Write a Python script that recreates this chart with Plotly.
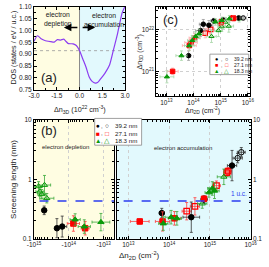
import plotly.graph_objects as go

W, H = 269, 267

# ---------------- panel (a): DOS vs Δn3D (10^22 cm^-3)
dos_n = [-3.0, -2.77, -2.5, -2.29, -1.88, -1.67, -1.46, -1.25, -1.04, -0.9, -0.73, -0.42,
         -0.21, 0.0, 0.21, 0.42, 0.63, 0.83, 1.04, 1.19, 1.35, 1.67, 1.98, 2.23, 2.5, 2.81, 2.98]
dos_val = [0.955, 0.978, 0.964, 0.958, 0.953, 0.951, 0.962, 0.960, 0.964, 0.955, 0.945, 0.944,
           0.937, 0.916, 0.881, 0.847, 0.805, 0.785, 0.778, 0.780, 0.792, 0.819, 0.854, 0.916,
           0.985, 1.075, 1.10]
dos_ref = 0.915
a_xticks = [-3.0, -1.5, 0.0, 1.5, 3.0]

# ---------------- panel (b): screening length (nm) vs Δn2D (cm^-2)
# depletion side, |Δn2D|
dep_392_n = [5.1e14, 2.2e14, 1.55e14]
dep_392_L = [0.30, 0.15, 0.16]
dep_392_fx = [1.1, 1.1, 1.35]
dep_392_fy = [1.18, 1.45, 1.5]
dep_271_n = [7.4e13, 3.4e13]
dep_271_L = [0.18, 0.15]
dep_271_fx = [1.5, 1.3]
dep_271_fy = [1.35, 1.3]
dep_183_n = [6.6e13, 3.6e13, 1.2e13]
dep_183_L = [0.21, 0.16, 0.19]
dep_183_fx = [1.4, 1.5, 1.8]
dep_183_fy = [1.25, 1.3, 1.4]
dep_183o_n = [7.4e14, 5.0e14, 6.8e14, 6.0e14, 4.3e14]
dep_183o_L = [0.76, 0.80, 0.62, 0.56, 0.48]
dep_183o_fx = [1.3, 1.5, 1.3, 1.3, 1.6]
dep_183o_fy = [1.2, 1.45, 1.2, 1.2, 1.2]
# accumulation side
acc_392_n = [6.6e13, 3.5e14, 7.2e14, 3.5e15]
acc_392_L = [0.27, 0.23, 0.46, 1.70]
acc_392_fx = [1.15, 1.6, 1.2, 1.3]
acc_392_fy = [1.2, 1.8, 1.15, 1.8]
acc_392o_n = [4.8e15, 5.9e15]
acc_392o_L = [2.27, 2.85]
acc_392o_fx = [1.3, 1.25]
acc_392o_fy = [1.2, 1.2]
acc_271_n = [1.9e13, 6.9e13, 1.35e14, 7.2e14]
acc_271_L = [0.195, 0.195, 0.22, 0.47]
acc_271_fx = [1.7, 1.5, 1.4, 1.15]
acc_271_fy = [1.1, 1.45, 1.3, 1.1]
acc_271o_n = [2.7e14, 4.3e14, 1.45e15, 2.6e15, 2.8e15]
acc_271o_L = [0.29, 0.35, 0.78, 1.29, 1.37]
acc_271o_fx = [1.3, 1.3, 1.25, 1.2, 1.2]
acc_271o_fy = [1.4, 1.4, 1.2, 1.15, 1.15]
acc_183_n = [7.2e13, 1.12e14, 1.55e14, 9.5e14, 1.15e15, 1.3e15]
acc_183_L = [0.18, 0.23, 0.22, 0.60, 0.70, 0.64]
acc_183_fx = [1.3, 1.4, 1.3, 1.25, 1.3, 1.3]
acc_183_fy = [1.3, 1.3, 1.3, 1.2, 1.3, 1.35]
acc_183o_n = [6.5e14, 2.2e15]
acc_183o_L = [0.39, 1.10]
acc_183o_fx = [1.3, 1.45]
acc_183o_fy = [1.2, 1.35]
uc_length = 0.43

# ---------------- panel (c): Δn3D (cm^-3) vs Δn2D (cm^-2)
c_392_n = [6.6e13, 1.8e14, 2.3e14, 3.7e14, 5.6e14, 1.2e15, 4.6e15]
c_392_N = [2.4e21, 9.7e21, 1.38e22, 1.3e22, 1.66e22, 1.75e22, 1.95e22]
c_392_fx = [1.2, 1.5, 1.4, 1.4, 1.3, 1.3, 1.3]
c_392_fy = [1.3, 1.4, 1.3, 1.3, 1.15, 1.15, 1.1]
c_392o_n = [6.8e15]
c_392o_N = [1.95e22]
c_271_n = [1.7e13, 7.0e13, 8.1e13, 1.1e14, 1.05e15, 3.0e15]
c_271_N = [1.0e21, 4.2e21, 5.0e21, 6.4e21, 1.57e22, 1.9e22]
c_271_fx = [1.6, 1.8, 1.7, 1.6, 1.3, 1.3]
c_271_fy = [1.2, 1.3, 1.3, 1.3, 1.2, 1.15]
c_271o_n = [2.7e14, 4.3e14, 1.0e15, 2.8e15]
c_271o_N = [8.4e21, 1.04e22, 1.44e22, 1.95e22]
c_271o_fx = [1.5, 1.4, 1.3, 1.3]
c_271o_fy = [1.3, 1.3, 1.2, 1.15]
c_183_n = [1.05e13, 3.6e13, 7.0e13, 9.0e13, 1.2e14, 1.6e14, 6.4e14, 1.1e15, 2.1e15]
c_183_N = [7.4e20, 2.4e21, 4.2e21, 5.6e21, 7.0e21, 8.1e21, 1.57e22, 1.7e22, 1.87e22]
c_183_fx = [1.8, 1.6, 1.5, 1.5, 1.4, 1.4, 1.3, 1.3, 1.3]
c_183_fy = [1.4, 1.3, 1.3, 1.3, 1.3, 1.3, 1.2, 1.2, 1.2]
c_183o_n = [4.6e14, 8.3e14, 1.1e15, 1.5e15, 2.0e15, 4.8e15]
c_183o_N = [7.0e21, 9.7e21, 1.2e22, 1.55e22, 1.24e22, 1.87e22]
c_183o_fx = [1.5, 1.4, 1.4, 1.4, 1.5, 1.4]
c_183o_fy = [1.4, 1.4, 1.3, 1.3, 1.4, 1.2]

legend_labels = ["39.2 nm", "27.1 nm", "18.3 nm"]

BLACK, RED, GREEN = "#000000", "#ff0000", "#0a9a0a"
E_BLACK, E_RED, E_GREEN = "#333333", "#ff4040", "#3aa83a"
L_BLACK, L_RED, L_GREEN = "#9a9a9a", "#ffaaaa", "#a6d6a6"
YELLOW, CYAN = "#fffde2", "#e2f9fd"
FONT = "Arial, Liberation Sans, sans-serif"


def px(x):
    return x / W


def py(y):
    return 1 - y / H


def err(vals, f):
    return dict(type="data", symmetric=False,
                array=[v * (k - 1) for v, k in zip(vals, f)],
                arrayminus=[v * (1 - 1 / k) for v, k in zip(vals, f)])


fig = go.Figure()


def pts(xa, ya, x, y, sym, color, size, ecolor, fx=None, fy=None, lw=1.0):
    kw = {}
    if fx is not None:
        kw["error_x"] = dict(err(x, fx), color=ecolor, thickness=0.8, width=1.5)
    if fy is not None:
        kw["error_y"] = dict(err(y, fy), color=ecolor, thickness=0.8, width=1.5)
    fig.add_trace(go.Scatter(x=x, y=y, mode="markers", xaxis=xa, yaxis=ya, showlegend=False,
                             marker=dict(symbol=sym, size=size, color=color,
                                         line=dict(color=color, width=lw)), **kw))


# panel (a)
fig.add_trace(go.Scatter(x=[-3, 3], y=[dos_ref, dos_ref], mode="lines", xaxis="x", yaxis="y",
                         line=dict(color="#999999", width=0.8, dash="dot"), showlegend=False))
fig.add_trace(go.Scatter(x=dos_n, y=dos_val, mode="lines", xaxis="x", yaxis="y",
                         line=dict(color="#8c3cf0", width=1.2, shape="spline", smoothing=0.6),
                         showlegend=False))

# panel (c)
pts("x2", "y2", c_271o_n, c_271o_N, "square-open", RED, 4.5, L_RED, c_271o_fx, c_271o_fy, 1.2)
pts("x2", "y2", c_183o_n, c_183o_N, "triangle-up-open", GREEN, 4.5, L_GREEN, c_183o_fx, c_183o_fy)
pts("x2", "y2", c_392_n, c_392_N, "circle", BLACK, 4.5, L_BLACK, c_392_fx, c_392_fy)
pts("x2", "y2", c_392o_n, c_392o_N, "circle-open", BLACK, 4.5, L_BLACK, [1.3], [1.1])
pts("x2", "y2", c_271_n, c_271_N, "square", RED, 4.5, L_RED, c_271_fx, c_271_fy)
pts("x2", "y2", c_183_n, c_183_N, "triangle-up", GREEN, 4.5, L_GREEN, c_183_fx, c_183_fy)

# panel (b) left (depletion)
pts("x3", "y3", dep_183o_n, dep_183o_L, "triangle-up-open", GREEN, 5.5, E_GREEN, dep_183o_fx, dep_183o_fy)
pts("x3", "y3", dep_392_n, dep_392_L, "circle", BLACK, 5.5, E_BLACK, dep_392_fx, dep_392_fy)
pts("x3", "y3", dep_271_n, dep_271_L, "square", RED, 5.5, E_RED, dep_271_fx, dep_271_fy)
pts("x3", "y3", dep_183_n, dep_183_L, "triangle-up", GREEN, 5.5, E_GREEN, dep_183_fx, dep_183_fy)

# panel (b) right (accumulation)
pts("x4", "y4", acc_271o_n, acc_271o_L, "square-open", RED, 5.5, E_RED, acc_271o_fx, acc_271o_fy, 1.3)
pts("x4", "y4", acc_183o_n, acc_183o_L, "triangle-up-open", GREEN, 5.5, E_GREEN, acc_183o_fx, acc_183o_fy)
pts("x4", "y4", acc_392o_n, acc_392o_L, "circle-open", BLACK, 5.5, E_BLACK, acc_392o_fx, acc_392o_fy)
pts("x4", "y4", acc_392_n, acc_392_L, "circle", BLACK, 5.5, E_BLACK, acc_392_fx, acc_392_fy)
pts("x4", "y4", acc_271_n, acc_271_L, "square", RED, 5.5, E_RED, acc_271_fx, acc_271_fy)
pts("x4", "y4", acc_183_n, acc_183_L, "triangle-up", GREEN, 5.5, E_GREEN, acc_183_fx, acc_183_fy)

# 1 u.c. dashed lines
for xa, ya in (("x3", "y3"), ("x4", "y4")):
    fig.add_trace(go.Scatter(x=[1e12, 1e17], y=[uc_length, uc_length], mode="lines", xaxis=xa,
                             yaxis=ya, line=dict(color="#2b3cf0", width=1.4, dash="dash"),
                             showlegend=False))


def sup(e, neg=False):
    return ("-" if neg else "") + "10<sup>%d</sup>" % e


def minor_log(lo, hi):
    return [float(k) * 10.0 ** d for d in range(lo, hi) for k in range(2, 10)]


axis_common = dict(showline=True, linecolor="black", linewidth=1, mirror="ticks", ticks="inside",
                   ticklen=3, tickwidth=0.8, tickcolor="black", zeroline=False,
                   tickfont=dict(size=6.5, color="#222", family=FONT))
grid = dict(showgrid=True, gridcolor="#d0d0d0", griddash="dot", gridwidth=0.8)

fig.update_layout(
    width=W, height=H, margin=dict(l=0, r=0, t=0, b=0),
    paper_bgcolor="white", plot_bgcolor="white", font=dict(family=FONT, color="#222"),
    xaxis=dict(axis_common, domain=[px(28.5), px(124.5)], range=[-3, 3], anchor="y",
               tickvals=a_xticks, ticktext=["%.1f" % v for v in a_xticks], showgrid=False,
               minor=dict(ticks="inside", ticklen=2, dtick=0.75, tickcolor="black")),
    yaxis=dict(axis_common, domain=[py(88), py(3)], range=[0.7499, 1.1001], anchor="x",
               dtick=0.05, tickformat=".2f", showgrid=False,
               minor=dict(ticks="inside", ticklen=2, dtick=0.025, tickcolor="black")),
    xaxis2=dict(axis_common, **grid, type="log", domain=[px(157.5), px(256)], range=[12.63, 16.07],
                anchor="y2", tickvals=[1e13, 1e14, 1e15, 1e16],
                ticktext=[sup(e) for e in (13, 14, 15, 16)], ticklabelstandoff=0,
                minor=dict(ticks="inside", ticklen=2, tickvals=minor_log(12, 16), tickcolor="black",
                           showgrid=False)),
    yaxis2=dict(axis_common, **grid, type="log", domain=[py(94.3), py(3.3)], range=[20.41, 22.55],
                anchor="x2", tickvals=[1e21, 1e22], ticktext=[sup(21), sup(22)],
                minor=dict(ticks="inside", ticklen=2, tickvals=minor_log(20, 23), tickcolor="black",
                           showgrid=False)),
    xaxis3=dict(axis_common, **grid, type="log", domain=[px(28.5), px(113)], range=[15, 12.7],
                anchor="y3", tickvals=[1e15, 1e14, 1e13],
                ticktext=[sup(e, True) for e in (15, 14, 13)],
                minor=dict(ticks="inside", ticklen=2, tickvals=minor_log(12, 15), tickcolor="black",
                           showgrid=False)),
    yaxis3=dict(axis_common, type="log", domain=[py(241), py(119)], range=[-1, 1], anchor="x3",
                tickvals=[0.1, 1, 10], ticktext=["0.1", "1", "10"], showgrid=False,
                minor=dict(ticks="inside", ticklen=2, tickvals=minor_log(-1, 1), tickcolor="black")),
    xaxis4=dict(axis_common, **grid, type="log", domain=[px(116), px(257)], range=[12.72, 16],
                anchor="y4", tickvals=[1e13, 1e14, 1e15, 1e16],
                ticktext=[sup(e) for e in (13, 14, 15, 16)],
                minor=dict(ticks="inside", ticklen=2, tickvals=minor_log(12, 16), tickcolor="black",
                           showgrid=False)),
    yaxis4=dict(axis_common, type="log", domain=[py(241), py(119)], range=[-1, 1], anchor="x4",
                side="right", tickvals=[0.1, 1, 10], ticktext=["0.1", "1", "10"], showgrid=False,
                minor=dict(ticks="inside", ticklen=2, tickvals=minor_log(-1, 1), tickcolor="black")),
)

shapes = [
    dict(type="rect", xref="x", yref="y domain", x0=-3, x1=0, y0=0, y1=1, fillcolor=YELLOW,
         line=dict(width=0), layer="below"),
    dict(type="rect", xref="x", yref="y domain", x0=0, x1=3, y0=0, y1=1, fillcolor=CYAN,
         line=dict(width=0), layer="below"),
    dict(type="line", xref="x", yref="y domain", x0=0, x1=0, y0=0, y1=1,
         line=dict(color="#8a8a8a", width=1), layer="below"),
    dict(type="rect", xref="x3 domain", yref="y3 domain", x0=0, x1=1, y0=0, y1=1, fillcolor=YELLOW,
         line=dict(width=0), layer="below"),
    dict(type="rect", xref="x4 domain", yref="y4 domain", x0=0, x1=1, y0=0, y1=1, fillcolor=CYAN,
         line=dict(width=0), layer="below"),
    # legend boxes
    dict(type="rect", xref="paper", yref="paper", x0=px(92.5), x1=px(142), y0=py(145), y1=py(117.5),
         fillcolor="white", line=dict(color="#888", width=0.8), layer="above"),
    dict(type="rect", xref="paper", yref="paper", x0=px(214), x1=px(255), y0=py(72.5), y1=py(51.5),
         fillcolor="white", line=dict(color="#888", width=0.8), layer="above"),
]
fig.update_layout(shapes=shapes)


def txt(x, y, t, size=7, angle=0, color="#222", xanchor="center"):
    return dict(x=px(x), y=py(y), xref="paper", yref="paper", text=t, showarrow=False,
                textangle=angle, xanchor=xanchor, yanchor="middle",
                font=dict(size=size, color=color, family=FONT))


ann = [
    txt(7, 45, "DOS (states / eV / u.c.)", 7.2, -90),
    txt(77, 108, "Δn<sub>3D</sub> (10<sup>22</sup> cm<sup>-3</sup>)", 7.2),
    txt(37, 16, "electron<br>depletion", 6.8, xanchor="left"),
    txt(79, 16, "electron<br>accumulation", 6.8, xanchor="left"),
    txt(44, 75, "(a)", 13),
    txt(173, 16, "(c)", 13),
    txt(140, 49, "Δn<sub>3D</sub> (cm<sup>-3</sup>)", 7, -90),
    txt(206, 109, "Δn<sub>2D</sub> (cm<sup>-2</sup>)", 7),
    txt(44, 130, "(b)", 13),
    txt(7, 180, "Screening length (nm)", 8, -90),
    txt(140, 258, "Δn<sub>2D</sub> (cm<sup>-2</sup>)", 8),
    txt(62, 147, "electron depletion", 6),
    txt(186, 148, "electron accumulation", 6),
    txt(245, 195, "1 u.c.", 6.5, color="#2b3cf0"),
]
# arrows in (a)
ann.append(dict(x=-1.03, y=1.013, xref="x", yref="y", ax=15, ay=0, text="", showarrow=True,
                arrowhead=2, arrowsize=1, arrowwidth=1.5, arrowcolor="black"))
ann.append(dict(x=1.03, y=1.013, xref="x", yref="y", ax=-14, ay=0, text="", showarrow=True,
                arrowhead=2, arrowsize=1, arrowwidth=1.5, arrowcolor="black"))

# legends
sym_pairs = [("●", "○", BLACK), ("■", "□", RED), ("▲", "△", GREEN)]
for i, ((f, o, c), lab) in enumerate(zip(sym_pairs, legend_labels)):
    yb = 125 + i * 7.6
    ann.append(txt(96, yb, "<span style='color:%s'>%s</span>" % (c, f), 6.5))
    ann.append(txt(100.5, yb, ",", 6))
    ann.append(txt(106, yb, "<span style='color:%s'>%s</span>" % (c, o), 6.5))
    ann.append(txt(112, yb, lab, 6.2, xanchor="left"))
    yc = 56 + i * 6.3
    ann.append(txt(221.5, yc, "<span style='color:%s'>%s</span>" % (c, f), 5.5))
    ann.append(txt(226, yc, ",", 5))
    ann.append(txt(232, yc, "<span style='color:%s'>%s</span>" % (c, o), 5.5))
    ann.append(txt(237, yc, lab, 5, xanchor="left"))
fig.update_layout(annotations=ann)

fig.write_html("out.html", config={"displayModeBar": False},
               post_script="document.body.style.margin='0';")
